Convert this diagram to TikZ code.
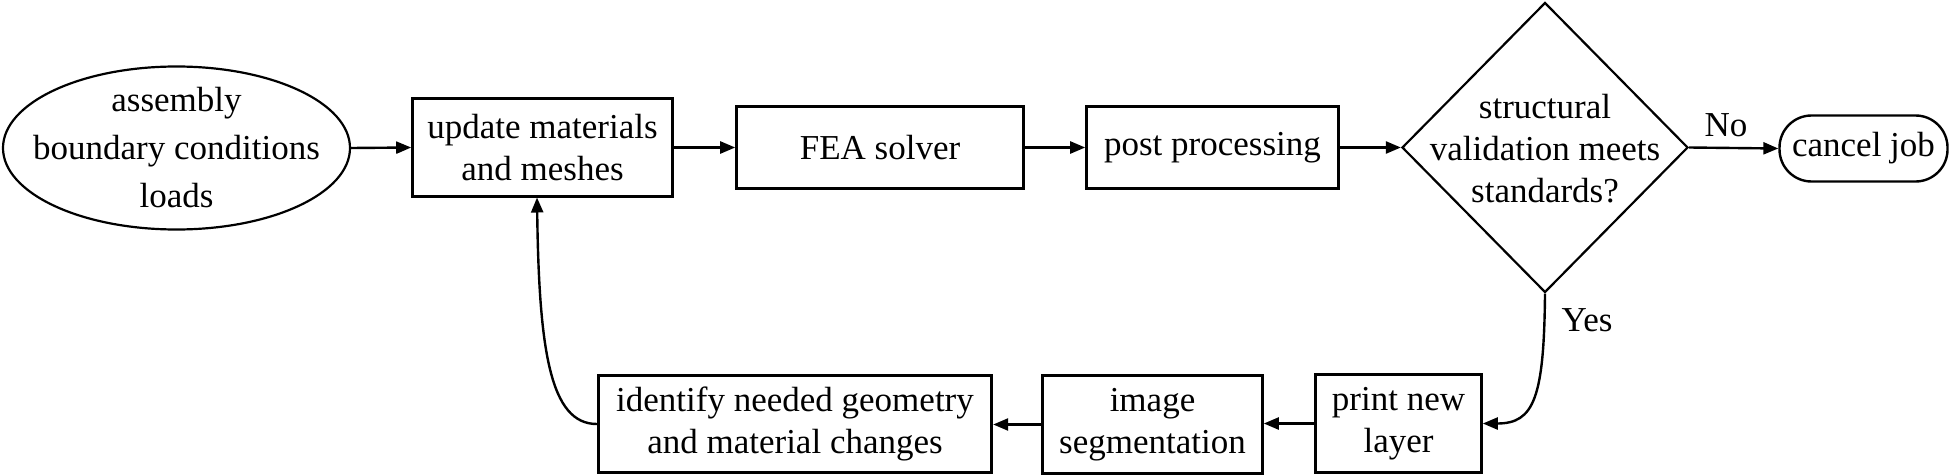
\documentclass[tikz,border=0pt]{standalone}
\usepackage{fontspec}
\setmainfont{Liberation Serif}
\usetikzlibrary{shapes.geometric,arrows.meta}
\begin{document}
\begin{tikzpicture}[x=1pt,y=-1pt,
  every node/.style={font=\fontsize{35}{42}\selectfont, inner sep=0pt, align=center},
  box/.style={draw, rectangle, line width=2.6pt},
  conn/.style={line width=2.4pt, -{Triangle[length=15pt,width=12pt]}},
  lbl/.style={}]
\useasboundingbox (0,0) rectangle (1950,476);
\node[draw, ellipse, line width=2.2pt, minimum width=347pt, minimum height=163pt] (ell) at (176.5,148) {};
\node[font=\fontsize{35}{48}\selectfont] (elltext) at (176.5,148) {assembly\\boundary conditions\\loads};
\node[box, minimum width=260pt, minimum height=98pt] (upd) at (542.5,147.5) {update materials\\and meshes};
\node[box, minimum width=287pt, minimum height=82pt] (fea) at (880,147.5) {FEA solver};
\node[box, minimum width=252pt, minimum height=82pt] (post) at (1212.5,147.5) {post processing};
\node[draw, diamond, line width=2.2pt, minimum width=286pt, minimum height=290pt] (dia) at (1545,147.5) {};
\node (diatext) at (1545,149) {structural\\validation meets\\standards?};
\node[draw, rectangle, rounded corners=32pt, line width=2.4pt, minimum width=168pt, minimum height=66pt] (cancel) at (1863.5,148.5) {cancel job};
\node[box, minimum width=166pt, minimum height=98pt] (print) at (1398.5,423.5) {print new\\layer};
\node[box, minimum width=220pt, minimum height=98pt] (seg) at (1152.5,424.5) {image\\segmentation};
\node[box, line width=3.4pt, minimum width=393pt, minimum height=97pt] (ident) at (795,424) {identify needed geometry\\and material changes};
\node[lbl] (no) at (1726,125) {No};
\node[lbl] (yes) at (1587,320) {Yes};
\coordinate (updin) at (537,197.5);
\draw[conn] (ell.east) -- (upd.west);
\draw[conn] (upd.east) -- (fea.west);
\draw[conn] (fea.east) -- (post.west);
\draw[conn] (post.east) -- (dia.west);
\draw[conn] (dia.east) -- (cancel.west);
\draw[conn] (dia.south) .. controls (1544,398) and (1534,423.5) .. (print.east);
\draw[conn] (print.west) -- (seg.east |- print.west);
\draw[conn] (seg.west) -- (ident.east |- seg.west);
\draw[conn] (ident.west) .. controls (550,424) and (539,350) .. (updin);
\end{tikzpicture}
\end{document}
